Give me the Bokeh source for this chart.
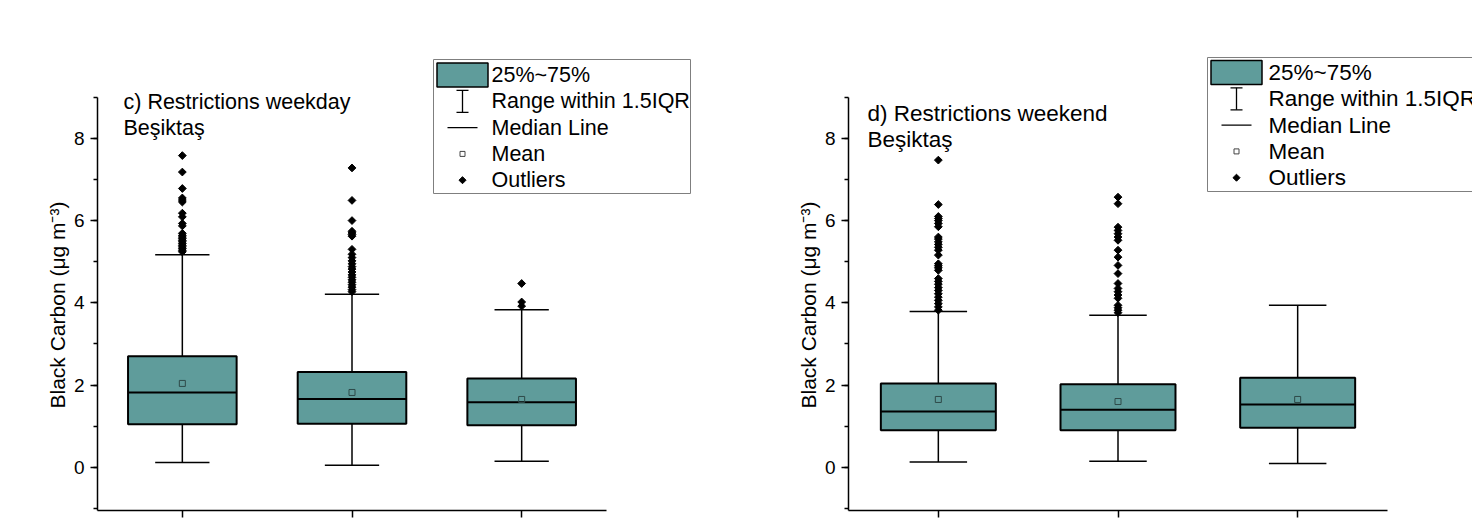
import math
from bokeh.plotting import figure
from bokeh.layouts import row
from bokeh.models import SingleIntervalTicker, FixedTicker, Title
from bokeh.core.properties import value
from bokeh.embed import file_html
from bokeh.resources import INLINE

# ---------------- data ----------------
categories = [1, 2, 3]

# c) Restrictions weekday - Besiktas
wd_q1 = [1.05, 1.06, 1.02]
wd_median = [1.82, 1.66, 1.58]
wd_q3 = [2.70, 2.32, 2.16]
wd_low = [0.12, 0.05, 0.15]
wd_high = [5.17, 4.21, 3.83]
wd_mean = [2.04, 1.82, 1.65]
wd_out_1 = [7.58, 7.18, 6.78, 6.55, 6.50, 6.45, 6.18, 6.09, 5.93, 5.87, 5.69,
            5.64, 5.60, 5.56, 5.52, 5.48, 5.44, 5.40, 5.36, 5.32, 5.28, 5.24]
wd_out_2 = [7.28, 6.49, 6.00, 5.74, 5.70, 5.66, 5.62, 5.30, 5.18, 5.10, 5.02,
            4.95, 4.88, 4.82, 4.75, 4.68, 4.62, 4.56, 4.50, 4.44, 4.38, 4.32, 4.27]
wd_out_3 = [4.47, 4.02, 3.92]

# d) Restrictions weekend - Besiktas
we_q1 = [0.90, 0.90, 0.96]
we_median = [1.36, 1.40, 1.53]
we_q3 = [2.04, 2.02, 2.18]
we_low = [0.13, 0.15, 0.09]
we_high = [3.79, 3.70, 3.94]
we_mean = [1.65, 1.60, 1.65]
we_out_1 = [7.47, 6.39, 6.10, 6.05, 6.00, 5.93, 5.85, 5.60, 5.55, 5.48, 5.42,
            5.35, 5.28, 5.16, 4.95, 4.90, 4.85, 4.79, 4.59, 4.52, 4.45, 4.37,
            4.30, 4.22, 4.14, 4.06, 3.98, 3.90, 3.82]
we_out_2 = [6.57, 6.41, 5.84, 5.76, 5.68, 5.60, 5.52, 5.28, 5.11, 4.91, 4.71,
            4.47, 4.35, 4.27, 4.19, 4.11, 3.94, 3.88, 3.82, 3.76]
we_out_3 = []

titles_c = ["c) Restrictions weekday", "Beşiktaş"]
titles_d = ["d) Restrictions weekend", "Beşiktaş"]
legend_labels = ["25%~75%", "Range within 1.5IQR", "Median Line", "Mean", "Outliers"]
y_label = "Black Carbon (μg m⁻³)"

# ---------------- style / layout ----------------
FONT = "Liberation Sans"
TEAL = "#5f9c9b"
FIG_W, FIG_H = 736, 523
FRAME_TOP, FRAME_BOTTOM = 40, 510          # page px
Y_AX_LO, Y_AX_HI = -1.05, 9.0
PX_PER_Y = (467 - 138) / 8.0
BOX_W = 0.64
CAP_W = 0.32
YLABEL_START_PX = 408                      # where the rotated y title begins


def make_panel(offset, frame_left, px_per_x, q1, med, q3, low, high, mean, outs,
               titles, title_x, title_y, leg, fsize):
    frame_left_fig = frame_left - offset
    x_end = 0.5 + (offset + FIG_W - frame_left) / px_per_x
    y_start = Y_AX_LO
    y_end = Y_AX_LO + (FRAME_BOTTOM - FRAME_TOP) / PX_PER_Y

    def X(px):
        return 0.5 + (px - frame_left) / px_per_x

    def Y(py):
        return Y_AX_LO + (FRAME_BOTTOM - py) / PX_PER_Y

    p = figure(width=FIG_W, height=FIG_H, x_range=(0.5, x_end), y_range=(y_start, y_end),
               min_border_left=frame_left_fig, min_border_right=0,
               min_border_top=FRAME_TOP, min_border_bottom=FIG_H - FRAME_BOTTOM,
               output_backend="svg", toolbar_location=None, outline_line_color=None,
               background_fill_color="white", border_fill_color="white")
    p.xgrid.visible = False
    p.ygrid.visible = False

    # y axis
    yax = p.yaxis[0]
    yax.ticker = SingleIntervalTicker(interval=2, num_minor_ticks=2)
    yax.bounds = (Y_AX_LO, Y_AX_HI)
    yax.major_label_text_font = FONT
    yax.major_label_text_font_size = "19px"
    yax.major_label_text_color = "black"
    yax.major_label_standoff = 6
    yax.axis_line_width = 1.5
    yax.axis_line_color = "black"
    yax.major_tick_line_width = 1.5
    yax.major_tick_line_color = "black"
    yax.minor_tick_line_width = 1.5
    yax.minor_tick_line_color = "black"
    yax.major_tick_out = 7
    yax.major_tick_in = 0
    yax.minor_tick_out = 4
    yax.minor_tick_in = 0

    # y axis title as a side title, started where the reference starts it
    p.add_layout(Title(text=y_label, align="left", offset=FRAME_BOTTOM - YLABEL_START_PX,
                       text_font=FONT, text_font_size="21px", text_font_style="normal",
                       text_color="black", standoff=4), "left")

    # x axis
    xax = p.xaxis[0]
    xax.ticker = FixedTicker(ticks=categories, minor_ticks=[])
    xax.bounds = (0.5, 3.5)
    xax.major_label_text_font_size = "1px"
    xax.major_label_text_color = None
    xax.major_label_standoff = 0
    xax.axis_line_width = 1.5
    xax.axis_line_color = "black"
    xax.major_tick_line_width = 1.5
    xax.major_tick_line_color = "black"
    xax.major_tick_out = 7
    xax.major_tick_in = 0

    # whiskers
    p.segment(x0=categories, y0=low, x1=categories, y1=high, line_color="black", line_width=1.5)
    cap_l = [c - CAP_W / 2 for c in categories]
    cap_r = [c + CAP_W / 2 for c in categories]
    p.segment(x0=cap_l, y0=high, x1=cap_r, y1=high, line_color="black", line_width=1.5)
    p.segment(x0=cap_l, y0=low, x1=cap_r, y1=low, line_color="black", line_width=1.5)
    # boxes
    p.vbar(x=categories, width=BOX_W, bottom=q1, top=q3, fill_color=TEAL,
           line_color="black", line_width=2)
    # medians
    p.segment(x0=[c - BOX_W / 2 for c in categories], y0=med,
              x1=[c + BOX_W / 2 for c in categories], y1=med,
              line_color="black", line_width=2)
    # means
    p.scatter(x=categories, y=mean, marker="square", size=6, fill_color=None,
              line_color="#2e4a49", line_width=1)
    # outliers
    ox, oy = [], []
    for c, vals in zip(categories, outs):
        ox += [c] * len(vals)
        oy += vals
    p.scatter(x=ox, y=oy, marker="square", angle=math.pi / 4, size=5.5,
              fill_color="black", line_color="black")

    # title text
    p.text(x=[X(title_x)] * 2, y=[Y(title_y), Y(title_y + 26)], text=titles,
           text_font=value(FONT), text_font_size=fsize, text_color="black",
           text_align="left", text_baseline="middle")

    # legend (drawn by hand)
    L, T, R, B, sym_x, txt_x, row0 = leg
    rows = [row0 + 26.3 * i for i in range(5)]
    p.rect(x=[X((L + R) / 2)], y=[Y((T + B) / 2)], width=R - L, height=B - T,
           width_units="screen", height_units="screen", fill_color="white",
           line_color="#7f7f7f", line_width=1)
    p.rect(x=[X(sym_x)], y=[Y(rows[0])], width=51, height=24, width_units="screen",
           height_units="screen", fill_color=TEAL, line_color="black", line_width=1.5)
    p.segment(x0=[X(sym_x), X(sym_x - 6), X(sym_x - 6)],
              y0=[Y(rows[1] - 11), Y(rows[1] - 11), Y(rows[1] + 11)],
              x1=[X(sym_x), X(sym_x + 6), X(sym_x + 6)],
              y1=[Y(rows[1] + 11), Y(rows[1] - 11), Y(rows[1] + 11)],
              line_color="black", line_width=1.3)
    p.segment(x0=[X(sym_x - 15)], y0=[Y(rows[2])], x1=[X(sym_x + 15)], y1=[Y(rows[2])],
              line_color="black", line_width=1.3)
    p.scatter(x=[X(sym_x)], y=[Y(rows[3])], marker="square", size=5, fill_color=None,
              line_color="#444444", line_width=1)
    p.scatter(x=[X(sym_x)], y=[Y(rows[4])], marker="square", angle=math.pi / 4, size=5,
              fill_color="black", line_color="black")
    p.text(x=[X(txt_x)] * 5, y=[Y(r) for r in rows], text=legend_labels,
           text_font=value(FONT), text_font_size=fsize, text_color="black",
           text_align="left", text_baseline="middle")
    return p


left = make_panel(0, 97, 509 / 3.0, wd_q1, wd_median, wd_q3, wd_low, wd_high, wd_mean,
                  [wd_out_1, wd_out_2, wd_out_3], titles_c, 123, 101,
                  (433, 59, 690, 193, 462, 491, 74.5), "21.5px")
right = make_panel(736, 848, 539 / 3.0, we_q1, we_median, we_q3, we_low, we_high, we_mean,
                   [we_out_1, we_out_2, we_out_3], titles_d, 867, 113,
                   (1207, 57, 1495, 191, 1236, 1268, 72), "22.5px")

layout = row(left, right)
open("out.html", "w").write(file_html(layout, INLINE))
